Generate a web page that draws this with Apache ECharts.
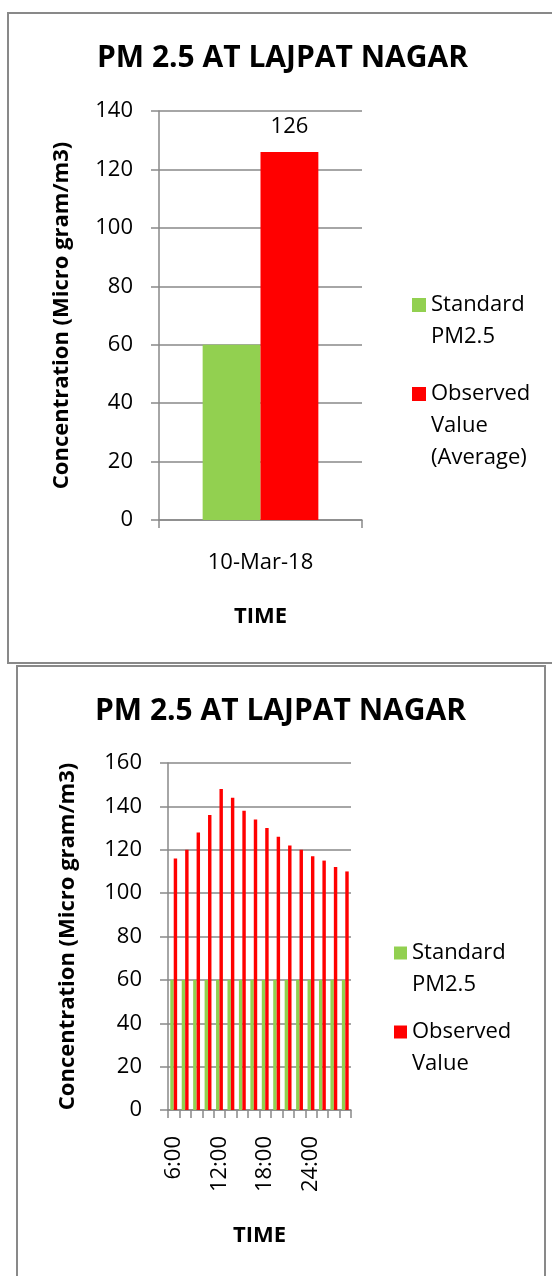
<!DOCTYPE html>
<html>
<head>
<meta charset="utf-8">
<script src="https://cdn.jsdelivr.net/npm/echarts@6/dist/echarts.min.js"></script>
<style>
  html, body { margin: 0; padding: 0; background: #fff; overflow: hidden; width: 552px; height: 1276px; }
  .chart { position: absolute; }
  .frame { position: absolute; box-sizing: border-box; border: 2px solid #898989; pointer-events: none; }
</style>
</head>
<body>
<div class="chart" id="c1" style="left:7px; top:12px; width:551px; height:651px;"></div>
<div class="frame" style="left:7px; top:12px; width:552px; height:652px;"></div>
<div class="chart" id="c2" style="left:16px; top:665px; width:529px; height:620px;"></div>
<div class="frame" style="left:16px; top:665px; width:530px; height:640px;"></div>
<script>
// ---- Data ----
const chartTitle = 'PM 2.5 AT LAJPAT NAGAR';
const yAxisName = 'Concentration (Micro gram/m3)';
const xAxisName = 'TIME';

// Chart 1: daily average
const avgCategories = ['10-Mar-18'];
const avgStandard = [60];
const avgObserved = [126];

// Chart 2: time series
const hourCategories = ['6:00', '7:30', '9:00', '10:30', '12:00', '13:30', '15:00', '16:30',
                        '18:00', '19:30', '21:00', '22:30', '24:00', '25:30', '27:00', '28:30'];
const hourStandard = [60, 60, 60, 60, 60, 60, 60, 60, 60, 60, 60, 60, 60, 60, 60, 60];
const hourObserved = [116, 120, 128, 136, 148, 144, 138, 134, 130, 126, 122, 120, 117, 115, 112, 110];

const FONT = '"Open Sans", "Liberation Sans", sans-serif';
const GREEN = '#92D050';
const RED = '#FF0000';
const GRAY = '#898989';

function legendItem(name, lines, left, top, size) {
  const n = lines.length;
  // leading blank lines so that the first text line sits level with the icon
  const text = '\n'.repeat(n - 1) + lines.join('\n');
  return {
    orient: 'vertical',
    left: left,
    top: top,
    padding: 0,
    itemWidth: size,
    itemHeight: size,
    itemGap: 0,
    icon: 'rect',
    selectedMode: false,
    data: [name],
    formatter: () => text,
    textStyle: { fontFamily: FONT, fontSize: 22, color: '#000', lineHeight: 32 }
  };
}

function baseAxes(cats, yMax, labelOpts) {
  return {
    xAxis: {
      type: 'category',
      data: cats,
      name: xAxisName,
      nameLocation: 'middle',
      nameTextStyle: { fontFamily: FONT, fontSize: 22, fontWeight: 'bold', color: '#000' },
      axisLine: { lineStyle: { color: GRAY, width: 1.5 } },
      axisTick: { show: true, length: 8, interval: 0, lineStyle: { color: GRAY, width: 1.5 } },
      axisLabel: Object.assign({ fontFamily: FONT, fontSize: 22, color: '#000' }, labelOpts),
      splitLine: { show: false }
    },
    yAxis: {
      type: 'value',
      min: 0, max: yMax, interval: 20,
      name: yAxisName,
      nameLocation: 'middle',
      nameRotate: 90,
      nameTextStyle: { fontFamily: FONT, fontSize: 22, fontWeight: 'bold', color: '#000' },
      axisLine: { show: true, lineStyle: { color: GRAY, width: 1.5 } },
      axisTick: { show: true, length: 8, lineStyle: { color: GRAY, width: 1.5 } },
      axisLabel: { fontFamily: FONT, fontSize: 22, color: '#000', margin: 26 },
      splitLine: { show: true, lineStyle: { color: GRAY, width: 1.5 } }
    }
  };
}

// ---- Chart 1 ----
const c1 = echarts.init(document.getElementById('c1'));
const ax1 = baseAxes(avgCategories, 140, { margin: 32 });
ax1.xAxis.nameGap = 86;
ax1.yAxis.nameGap = 86;
c1.setOption({
  animation: false,
  title: {
    text: chartTitle, left: 'center', top: 26,
    textStyle: { fontFamily: FONT, fontSize: 30, fontWeight: 'bold', color: '#000' }
  },
  grid: { left: 152, top: 99, width: 203, height: 409 },
  xAxis: ax1.xAxis,
  yAxis: ax1.yAxis,
  legend: [
    legendItem('Standard PM2.5', ['Standard', 'PM2.5'], 405, 245, 14),
    legendItem('Observed Value (Average)', ['Observed', 'Value', '(Average)'], 405, 302, 14)
  ],
  series: [
    { name: 'Standard PM2.5', type: 'bar', data: avgStandard, barGap: '0%', barCategoryGap: '43%',
      itemStyle: { color: GREEN } },
    { name: 'Observed Value (Average)', type: 'bar', data: avgObserved, barGap: '0%', barCategoryGap: '43%',
      itemStyle: { color: RED },
      label: { show: true, position: 'top', distance: 14, fontFamily: FONT, fontSize: 22, color: '#000' } }
  ]
});

// ---- Chart 2 ----
const c2 = echarts.init(document.getElementById('c2'));
const ax2 = baseAxes(hourCategories, 160, { margin: 26, rotate: 90, interval: 3 });
ax2.xAxis.nameGap = 115;
ax2.yAxis.nameGap = 89;
c2.setOption({
  animation: false,
  title: {
    text: chartTitle, left: 'center', top: 26,
    textStyle: { fontFamily: FONT, fontSize: 30, fontWeight: 'bold', color: '#000' }
  },
  grid: { left: 152, top: 98, width: 183, height: 347 },
  xAxis: ax2.xAxis,
  yAxis: ax2.yAxis,
  legend: [
    legendItem('Standard PM2.5', ['Standard', 'PM2.5'], 378, 240, 13),
    legendItem('Observed Value', ['Observed', 'Value'], 378, 319, 13)
  ],
  series: [
    { name: 'Standard PM2.5', type: 'bar', data: hourStandard, barGap: '0%', barCategoryGap: '40%',
      itemStyle: { color: GREEN } },
    { name: 'Observed Value', type: 'bar', data: hourObserved, barGap: '0%', barCategoryGap: '40%',
      itemStyle: { color: RED } }
  ]
});
</script>
</body>
</html>
